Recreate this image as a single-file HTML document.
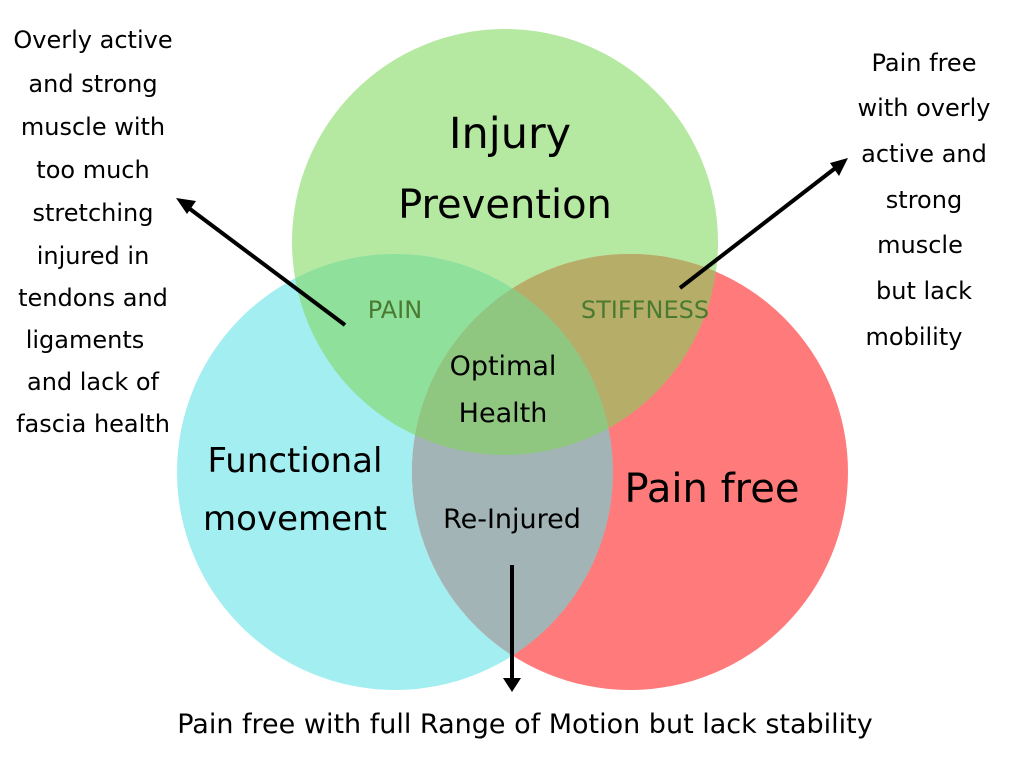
<!DOCTYPE html>
<html><head><meta charset="utf-8"><style>
html,body{margin:0;padding:0;background:#fff;}
svg{display:block}
text{font-family:"Comic Sans MS","DejaVu Sans","Liberation Sans",sans-serif;fill:#000;}
</style></head><body>
<svg width="1024" height="768" viewBox="0 0 1024 768" xmlns="http://www.w3.org/2000/svg">
<defs>
<clipPath id="g"><circle cx="505" cy="242" r="213"/></clipPath>
<clipPath id="c"><circle cx="395" cy="472" r="218"/></clipPath>
</defs>
<rect width="1024" height="768" fill="#fff"/>
<circle cx="505" cy="242" r="213" fill="#b5e8a0"/>
<circle cx="395" cy="472" r="218" fill="#a3eef0"/>
<circle cx="630" cy="472" r="218" fill="#ff7b7b"/>
<circle cx="395" cy="472" r="218" fill="#8fe09a" clip-path="url(#g)"/>
<circle cx="630" cy="472" r="218" fill="#b6ae68" clip-path="url(#g)"/>
<circle cx="630" cy="472" r="218" fill="#a3b4b6" clip-path="url(#c)"/>
<g clip-path="url(#g)"><circle cx="630" cy="472" r="218" fill="#8fc780" clip-path="url(#c)"/></g>
<g stroke="#000" stroke-width="4" fill="none">
<line x1="345" y1="325" x2="186" y2="206"/>
<line x1="680" y1="288" x2="838" y2="166"/>
<line x1="512" y1="565" x2="512" y2="680"/>
</g>
<path d="M176,198 L196,201 L187,214 z" fill="#000"/>
<path d="M848,158 L839,176 L830,163 z" fill="#000"/>
<path d="M503,678 L521,678 L512,692 z" fill="#000"/>
<text x="510" y="148" font-size="43" text-anchor="middle">Injury</text>
<text x="505" y="218" font-size="40" text-anchor="middle">Prevention</text>
<text x="295" y="472" font-size="34" text-anchor="middle">Functional</text>
<text x="295" y="530" font-size="34" text-anchor="middle">movement</text>
<text x="712" y="502" font-size="40" text-anchor="middle">Pain free</text>
<text x="395" y="318" font-size="24" text-anchor="middle" style="fill:#4a7a30">PAIN</text>
<text x="645" y="318" font-size="24" text-anchor="middle" style="fill:#4a7a30">STIFFNESS</text>
<text x="503" y="375" font-size="27" text-anchor="middle">Optimal</text>
<text x="503" y="422" font-size="27" text-anchor="middle">Health</text>
<text x="512" y="528" font-size="27" text-anchor="middle">Re-Injured</text>
<g font-size="24" text-anchor="middle">
<text x="93" y="48">Overly active</text>
<text x="93" y="92">and strong</text>
<text x="93" y="135">muscle with</text>
<text x="93" y="178">too much</text>
<text x="93" y="221">stretching</text>
<text x="93" y="264">injured in</text>
<text x="93" y="306">tendons and</text>
<text x="85" y="348">ligaments</text>
<text x="93" y="390">and lack of</text>
<text x="93" y="432">fascia health</text>
<text x="924" y="71">Pain free</text>
<text x="924" y="116">with overly</text>
<text x="924" y="162">active and</text>
<text x="924" y="208">strong</text>
<text x="920" y="253">muscle</text>
<text x="924" y="299">but lack</text>
<text x="914" y="345">mobility</text>
<text x="525" y="733" font-size="27">Pain free with full Range of Motion but lack stability</text>
</g>
</svg>
</body></html>
